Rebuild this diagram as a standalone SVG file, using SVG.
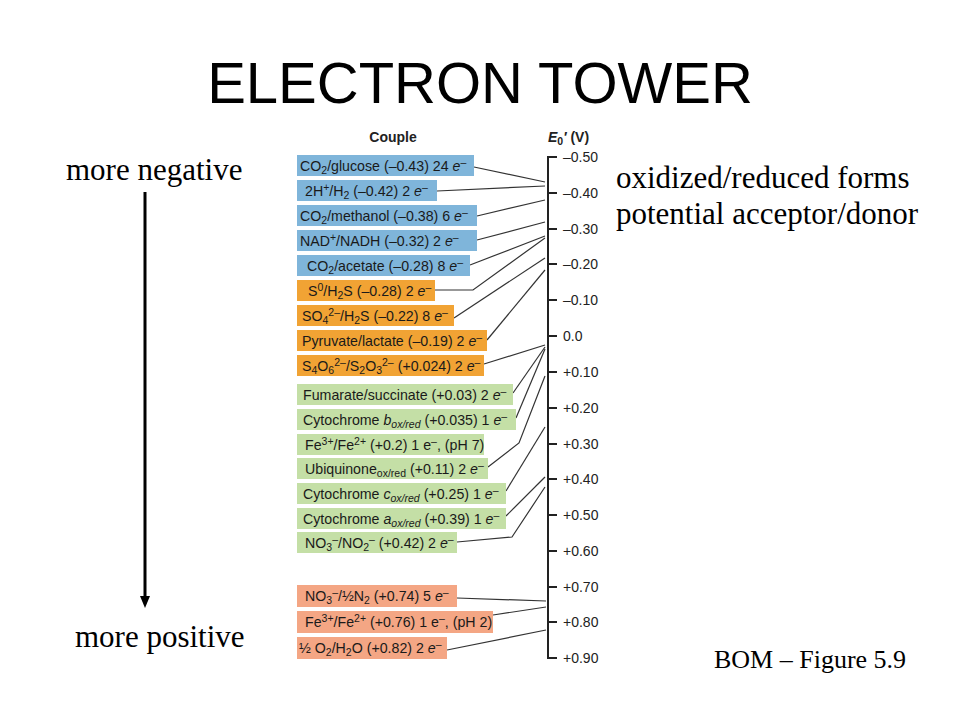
<svg xmlns="http://www.w3.org/2000/svg" width="960" height="720" viewBox="0 0 960 720">
<style>
.title{font-family:"Liberation Sans",Arial,sans-serif;font-size:58px;fill:#000}
.tm{font-family:"Liberation Serif","Times New Roman",serif;font-size:31px;fill:#000}
.bom{font-family:"Liberation Serif","Times New Roman",serif;font-size:26px;fill:#000}
.hdr{font-family:"Liberation Sans",Arial,sans-serif;font-size:14px;font-weight:bold;fill:#222}
.lbl{font-family:"Liberation Sans",Arial,sans-serif;font-size:14.2px;fill:#1a1a1a}
.ax{font-family:"Liberation Sans",Arial,sans-serif;font-size:14px;fill:#222}
.sub{font-size:10.5px;baseline-shift:-3px}
.sup{font-size:10.5px;baseline-shift:5px}
.i{font-style:italic}
.blue{fill:#7fb5da}
.orange{fill:#f1a334}
.green{fill:#c4dfa6}
.salmon{fill:#f4a684}
.conn{fill:none;stroke:#333;stroke-width:1.2}
.axis{fill:none;stroke:#222;stroke-width:2}
</style>
<rect width="960" height="720" fill="#fff"/>
<text class="title" x="480" y="103" text-anchor="middle">ELECTRON TOWER</text>

<g id="left-arrow">
<line x1="145" y1="192" x2="145" y2="598" stroke="#000" stroke-width="3"/>
<polygon points="140,596 150,596 145,608" fill="#000"/>
<text class="tm" x="66" y="180">more negative</text>
<text class="tm" x="75" y="647">more positive</text>
</g>

<g id="notes">
<text class="tm" x="616" y="188">oxidized/reduced forms</text>
<text class="tm" x="616" y="224">potential acceptor/donor</text>
<text class="bom" x="714" y="668">BOM – Figure 5.9</text>
</g>

<g id="headers">
<text class="hdr" x="393" y="142" text-anchor="middle">Couple</text>
<text class="hdr" x="548" y="142"><tspan class="i">E</tspan><tspan class="sub">0</tspan><tspan class="i">′</tspan> (V)</text>
</g>

<g id="axis">
<path class="axis" d="M557,157 H548 V658 H557"/>
<path class="axis" d="M548,193 H557 M548,229 H557 M548,264 H557 M548,300 H557 M548,336 H557 M548,372 H557 M548,408 H557 M548,444 H557 M548,479 H557 M548,515 H557 M548,551 H557 M548,587 H557 M548,622 H557"/>
<text class="ax" x="563" y="162">–0.50</text>
<text class="ax" x="563" y="198">–0.40</text>
<text class="ax" x="563" y="234">–0.30</text>
<text class="ax" x="563" y="269">–0.20</text>
<text class="ax" x="563" y="305">–0.10</text>
<text class="ax" x="563" y="341">0.0</text>
<text class="ax" x="563" y="377">+0.10</text>
<text class="ax" x="563" y="413">+0.20</text>
<text class="ax" x="563" y="449">+0.30</text>
<text class="ax" x="563" y="484">+0.40</text>
<text class="ax" x="563" y="520">+0.50</text>
<text class="ax" x="563" y="556">+0.60</text>
<text class="ax" x="563" y="592">+0.70</text>
<text class="ax" x="563" y="627">+0.80</text>
<text class="ax" x="563" y="663">+0.90</text>
</g>

<g id="connectors">
<polyline class="conn" points="474,167 545,182"/>
<polyline class="conn" points="437,191 545,186"/>
<polyline class="conn" points="477,216 545,200"/>
<polyline class="conn" points="477,240 545,222"/>
<polyline class="conn" points="470,265 545,236"/>
<polyline class="conn" points="435,290 473,290 545,238"/>
<polyline class="conn" points="454,318 545,258"/>
<polyline class="conn" points="487,340 545,270"/>
<polyline class="conn" points="484,364 545,345"/>
<polyline class="conn" points="513,393 545,347"/>
<polyline class="conn" points="516,418 545,349"/>
<polyline class="conn" points="488,467 519,443 545,376"/>
<polyline class="conn" points="506,491 545,427"/>
<polyline class="conn" points="506,516 545,477"/>
<polyline class="conn" points="457,542 512,537 545,487"/>
<polyline class="conn" points="457,598 546,601"/>
<polyline class="conn" points="493,615 546,607"/>
<polyline class="conn" points="447,650 546,630"/>
</g>

<g id="n1"><rect class="blue" x="297" y="155" width="177" height="21"/><text class="lbl" x="300" y="171">CO<tspan class="sub">2</tspan>/glucose (–0.43) 24 <tspan class="i">e</tspan><tspan class="sup">–</tspan></text></g>
<g id="n2"><rect class="blue" x="297" y="180" width="140" height="21"/><text class="lbl" x="305" y="196">2H<tspan class="sup">+</tspan>/H<tspan class="sub">2</tspan> (–0.42) 2 <tspan class="i">e</tspan><tspan class="sup">–</tspan></text></g>
<g id="n3"><rect class="blue" x="297" y="205" width="180" height="21"/><text class="lbl" x="300" y="221">CO<tspan class="sub">2</tspan>/methanol (–0.38) 6 <tspan class="i">e</tspan><tspan class="sup">–</tspan></text></g>
<g id="n4"><rect class="blue" x="297" y="230" width="180" height="21"/><text class="lbl" x="300" y="246">NAD<tspan class="sup">+</tspan>/NADH (–0.32) 2 <tspan class="i">e</tspan><tspan class="sup">–</tspan></text></g>
<g id="n5"><rect class="blue" x="297" y="255" width="173" height="21"/><text class="lbl" x="307" y="271">CO<tspan class="sub">2</tspan>/acetate (–0.28) 8 <tspan class="i">e</tspan><tspan class="sup">–</tspan></text></g>
<g id="n6"><rect class="orange" x="297" y="280" width="138" height="21"/><text class="lbl" x="308" y="296">S<tspan class="sup">0</tspan>/H<tspan class="sub">2</tspan>S (–0.28) 2 <tspan class="i">e</tspan><tspan class="sup">–</tspan></text></g>
<g id="n7"><rect class="orange" x="297" y="305" width="157" height="21"/><text class="lbl" x="302" y="321">SO<tspan class="sub">4</tspan><tspan class="sup">2–</tspan>/H<tspan class="sub">2</tspan>S (–0.22) 8 <tspan class="i">e</tspan><tspan class="sup">–</tspan></text></g>
<g id="n8"><rect class="orange" x="297" y="330" width="190" height="21"/><text class="lbl" x="302" y="346">Pyruvate/lactate (–0.19) 2 <tspan class="i">e</tspan><tspan class="sup">–</tspan></text></g>
<g id="n9"><rect class="orange" x="297" y="355" width="187" height="21"/><text class="lbl" x="302" y="371">S<tspan class="sub">4</tspan>O<tspan class="sub">6</tspan><tspan class="sup">2–</tspan>/S<tspan class="sub">2</tspan>O<tspan class="sub">3</tspan><tspan class="sup">2–</tspan> (+0.024) 2 <tspan class="i">e</tspan><tspan class="sup">–</tspan></text></g>
<g id="n10"><rect class="green" x="297" y="384" width="216" height="21"/><text class="lbl" x="303" y="400">Fumarate/succinate (+0.03) 2 <tspan class="i">e</tspan><tspan class="sup">–</tspan></text></g>
<g id="n11"><rect class="green" x="297" y="409" width="219" height="21"/><text class="lbl" x="303" y="425">Cytochrome <tspan class="i">b</tspan><tspan class="sub i">ox/red</tspan> (+0.035) 1 <tspan class="i">e</tspan><tspan class="sup">–</tspan></text></g>
<g id="n12"><rect class="green" x="297" y="434" width="187" height="21"/><text class="lbl" x="305" y="450">Fe<tspan class="sup">3+</tspan>/Fe<tspan class="sup">2+</tspan> (+0.2) 1 e<tspan class="sup">–</tspan>, (pH 7)</text></g>
<g id="n13"><rect class="green" x="297" y="458" width="191" height="21"/><text class="lbl" x="305" y="474">Ubiquinone<tspan class="sub">ox/red</tspan> (+0.11) 2 <tspan class="i">e</tspan><tspan class="sup">–</tspan></text></g>
<g id="n14"><rect class="green" x="297" y="483" width="209" height="21"/><text class="lbl" x="303" y="499">Cytochrome <tspan class="i">c</tspan><tspan class="sub i">ox/red</tspan> (+0.25) 1 <tspan class="i">e</tspan><tspan class="sup">–</tspan></text></g>
<g id="n15"><rect class="green" x="297" y="508" width="209" height="21"/><text class="lbl" x="303" y="524">Cytochrome <tspan class="i">a</tspan><tspan class="sub i">ox/red</tspan> (+0.39) 1 <tspan class="i">e</tspan><tspan class="sup">–</tspan></text></g>
<g id="n16"><rect class="green" x="297" y="532" width="160" height="21"/><text class="lbl" x="305" y="548">NO<tspan class="sub">3</tspan><tspan class="sup">–</tspan>/NO<tspan class="sub">2</tspan><tspan class="sup">–</tspan> (+0.42) 2 <tspan class="i">e</tspan><tspan class="sup">–</tspan></text></g>
<g id="n17"><rect class="salmon" x="297" y="585" width="160" height="22"/><text class="lbl" x="305" y="601">NO<tspan class="sub">3</tspan><tspan class="sup">–</tspan>/½N<tspan class="sub">2</tspan> (+0.74) 5 <tspan class="i">e</tspan><tspan class="sup">–</tspan></text></g>
<g id="n18"><rect class="salmon" x="297" y="611" width="196" height="22"/><text class="lbl" x="305" y="627">Fe<tspan class="sup">3+</tspan>/Fe<tspan class="sup">2+</tspan> (+0.76) 1 e<tspan class="sup">–</tspan>, (pH 2)</text></g>
<g id="n19"><rect class="salmon" x="297" y="637" width="150" height="22"/><text class="lbl" x="299" y="653">½ O<tspan class="sub">2</tspan>/H<tspan class="sub">2</tspan>O (+0.82) 2 <tspan class="i">e</tspan><tspan class="sup">–</tspan></text></g>
</svg>
